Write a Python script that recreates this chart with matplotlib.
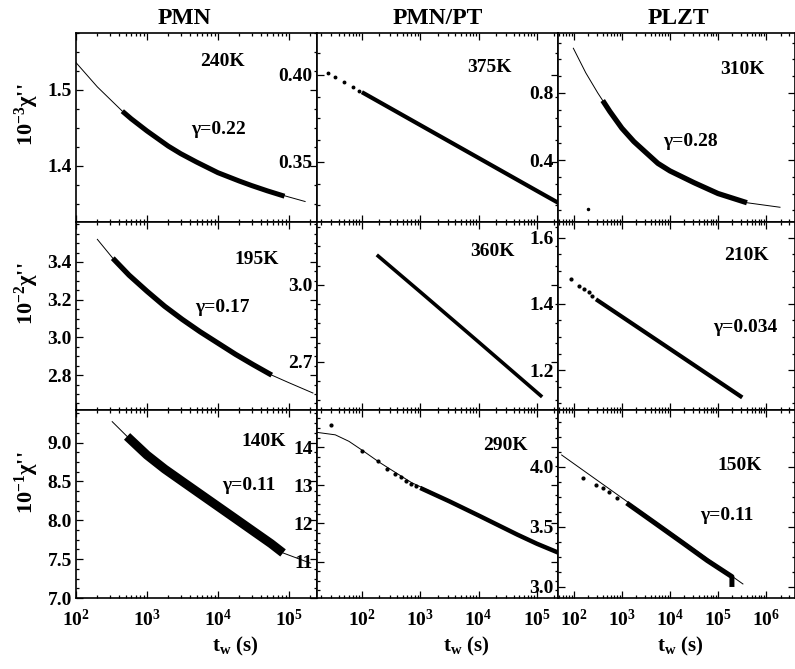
import matplotlib
matplotlib.use("Agg")
import matplotlib.pyplot as plt
from matplotlib.ticker import LogLocator, LogFormatterMathtext, NullFormatter, FixedLocator, FormatStrFormatter, AutoMinorLocator

plt.rcParams["font.family"] = ["Liberation Serif", "DejaVu Serif"]
plt.rcParams["font.weight"] = "bold"
plt.rcParams["mathtext.fontset"] = "custom"
plt.rcParams["mathtext.rm"] = "Liberation Serif:bold"
plt.rcParams["mathtext.it"] = "Liberation Serif:bold:italic"

# ---- data (t in s) ----
# PMN 240K
pmn240_fit_t = [100, 200, 450, 600, 1000, 2000, 3000, 5000, 10000, 20000, 30000, 50000, 100000, 170000]
pmn240_fit_y = [1.536, 1.504, 1.472, 1.462, 1.446, 1.426, 1.416, 1.405, 1.391, 1.380, 1.374, 1.367, 1.359, 1.353]
pmn240_t = [450, 600, 1000, 2000, 3000, 5000, 10000, 20000, 30000, 50000, 87000]
pmn240_y = [1.472, 1.462, 1.446, 1.426, 1.416, 1.405, 1.391, 1.380, 1.374, 1.367, 1.360]

# PMN/PT 375K
pt375_dot_t = [26, 35, 50, 71, 89]
pt375_dot_y = [0.4013, 0.3987, 0.3958, 0.3930, 0.3910]
pt375_t = [100, 1000, 10000, 100000, 230000]
pt375_y = [0.3901, 0.3712, 0.3523, 0.3334, 0.3266]

# PLZT 310K
plzt310_fit_t = [98, 178, 316, 400, 562, 1000, 1780, 3160, 5620, 10000, 31600, 100000, 400000, 1950000]
plzt310_fit_y = [1.067, 0.92, 0.80, 0.755, 0.69, 0.59, 0.51, 0.445, 0.38, 0.335, 0.265, 0.20, 0.145, 0.118]
plzt310_t = [400, 562, 1000, 1780, 3160, 5620, 10000, 31600, 100000, 400000]
plzt310_y = [0.755, 0.69, 0.59, 0.51, 0.445, 0.38, 0.335, 0.265, 0.20, 0.145]
plzt310_dot_t = [200]
plzt310_dot_y = [0.107]

# PMN 195K
pmn195_fit_t = [200, 330, 560, 1000, 1780, 3160, 5620, 10000, 17800, 31600, 57500, 100000, 219000]
pmn195_fit_y = [3.52, 3.42, 3.33, 3.245, 3.165, 3.095, 3.03, 2.97, 2.91, 2.855, 2.80, 2.76, 2.705]
pmn195_t = [330, 560, 1000, 1780, 3160, 5620, 10000, 17800, 31600, 57500]
pmn195_y = [3.42, 3.33, 3.245, 3.165, 3.095, 3.03, 2.97, 2.91, 2.855, 2.80]

# PMN/PT 360K
pt360_t = [180, 1000, 10000, 123000]
pt360_y = [3.117, 2.973, 2.778, 2.564]

# PLZT 210K
plzt210_dot_t = [87, 126, 162, 204, 245]
plzt210_dot_y = [1.475, 1.455, 1.444, 1.436, 1.424]
plzt210_t = [290, 10000, 320000]
plzt210_y = [1.414, 1.264, 1.117]

# PMN 140K
pmn140_fit_t = [324, 525, 1000, 1780, 3160, 5620, 10000, 17800, 31600, 56200, 83000, 200000]
pmn140_fit_y = [9.27, 9.08, 8.84, 8.66, 8.50, 8.34, 8.18, 8.02, 7.86, 7.70, 7.58, 7.45]
pmn140_t = [525, 1000, 1780, 3160, 5620, 10000, 17800, 31600, 56200, 83000]
pmn140_y = [9.08, 8.84, 8.66, 8.50, 8.34, 8.18, 8.02, 7.86, 7.70, 7.58]

# PMN/PT 290K
pt290_fit_t = [16, 35, 60, 105, 200, 390, 710, 1450, 3160, 9300, 20000, 46000, 100000, 250000]
pt290_fit_y = [14.39, 14.32, 14.15, 13.90, 13.60, 13.32, 13.07, 12.85, 12.58, 12.23, 11.98, 11.71, 11.47, 11.21]
pt290_dot_t = [30, 102, 186, 270, 370, 470, 575, 690, 850]
pt290_dot_y = [14.58, 13.90, 13.63, 13.43, 13.30, 13.21, 13.12, 13.03, 12.97]
pt290_t = [1000, 3160, 10000, 46000, 100000, 230000]
pt290_y = [12.93, 12.58, 12.21, 11.71, 11.47, 11.24]

# PLZT 150K
plzt150_fit_t = [56, 330000]
plzt150_fit_y = [4.10, 3.025]
plzt150_dot_t = [155, 295, 400, 540, 780]
plzt150_dot_y = [3.908, 3.85, 3.825, 3.79, 3.74]
plzt150_t = [1260, 5000, 18600, 60000, 195000, 195000]
plzt150_y = [3.70, 3.53, 3.367, 3.22, 3.086, 3.0]

# ---- layout ----
fig = plt.figure(figsize=(7.95, 6.69), dpi=100)
W, H = 795.0, 669.0
col_x = [(76, 317), (317, 558), (558, 795)]
row_y = [(33, 222), (222, 410), (410, 598)]
col_xlim = [(100, 2.5e5), (17, 2.3e5), (47, 4e6)]


def make_ax(r, c, ylim, yticks, fmt):
    x0, x1 = col_x[c]
    y0, y1 = row_y[r]
    ax = fig.add_axes([x0 / W, 1 - y1 / H, (x1 - x0) / W, (y1 - y0) / H])
    ax.set_xscale("log")
    ax.set_xlim(*col_xlim[c])
    ax.set_ylim(*ylim)
    ax.xaxis.set_major_locator(LogLocator(base=10, numticks=10))
    ax.xaxis.set_minor_locator(LogLocator(base=10, subs=range(2, 10), numticks=20))
    ax.xaxis.set_minor_formatter(NullFormatter())
    if r == 2:
        ax.xaxis.set_major_formatter(LogFormatterMathtext())
    else:
        ax.xaxis.set_major_formatter(NullFormatter())
    ax.yaxis.set_major_locator(FixedLocator(yticks))
    ax.yaxis.set_major_formatter(FormatStrFormatter(fmt))
    ax.yaxis.set_minor_locator(AutoMinorLocator(4))
    ax.tick_params(which="both", direction="in", top=True, right=True, width=0.9)
    ax.tick_params(which="major", length=5, labelsize=14, pad=3)
    ax.tick_params(axis="x", which="major", pad=8)
    ax.tick_params(which="minor", length=2.5)
    for s in ax.spines.values():
        s.set_linewidth(1.2)
    return ax


def note(ax, x, y, s):
    fig.text(x / W, 1 - y / H, s, ha="center", va="center", fontsize=14, fontweight="bold")


# PMN 240K
ax = make_ax(0, 0, (1.326, 1.575), [1.4, 1.5], "%.1f")
ax.plot(pmn240_fit_t, pmn240_fit_y, color="black", lw=0.7)
ax.plot(pmn240_t, pmn240_y, color="black", lw=3.6, solid_capstyle="butt")
note(ax, 222, 62, "240K")
note(ax, 219, 130, "γ=0.22")

# PMN/PT 375K
ax = make_ax(0, 1, (0.3155, 0.4241), [0.35, 0.40], "%.2f")
ax.plot(pt375_dot_t, pt375_dot_y, "o", color="black", ms=1.8)
ax.plot(pt375_t, pt375_y, color="black", lw=3.0, solid_capstyle="butt")
note(ax, 489, 67, "375K")

# PLZT 310K
ax = make_ax(0, 2, (0.03, 1.158), [0.4, 0.8], "%.1f")
ax.plot(plzt310_fit_t, plzt310_fit_y, color="black", lw=0.7)
ax.plot(plzt310_t, plzt310_y, color="black", lw=3.8, solid_capstyle="butt")
ax.plot(plzt310_dot_t, plzt310_dot_y, "o", color="black", ms=1.5)
note(ax, 742, 70, "310K")
note(ax, 690, 142, "γ=0.28")

# PMN 195K
ax = make_ax(1, 0, (2.615, 3.612), [2.8, 3.0, 3.2, 3.4], "%.1f")
ax.plot(pmn195_fit_t, pmn195_fit_y, color="black", lw=0.7)
ax.plot(pmn195_t, pmn195_y, color="black", lw=3.8, solid_capstyle="butt")
note(ax, 257, 260, "195K")
note(ax, 222, 308, "γ=0.17")

# PMN/PT 360K
ax = make_ax(1, 1, (2.513, 3.245), [2.7, 3.0], "%.1f")
ax.plot(pt360_t, pt360_y, color="black", lw=2.6, solid_capstyle="butt")
note(ax, 492, 252, "360K")

# PLZT 210K
ax = make_ax(1, 2, (1.079, 1.648), [1.2, 1.4, 1.6], "%.1f")
ax.plot(plzt210_dot_t, plzt210_dot_y, "o", color="black", ms=2.0)
ax.plot(plzt210_t, plzt210_y, color="black", lw=3.0, solid_capstyle="butt")
note(ax, 746, 255, "210K")
note(ax, 745, 327, "γ=0.034")

# PMN 140K
ax = make_ax(2, 0, (7.0, 9.42), [7.0, 7.5, 8.0, 8.5, 9.0], "%.1f")
ax.plot(pmn140_fit_t, pmn140_fit_y, color="black", lw=0.7)
ax.plot(pmn140_t, pmn140_y, color="black", lw=6.5, solid_capstyle="butt")
note(ax, 264, 442, "140K")
note(ax, 249, 486, "γ=0.11")

# PMN/PT 290K
ax = make_ax(2, 1, (10.05, 14.97), [11, 12, 13, 14], "%d")
ax.plot(pt290_fit_t, pt290_fit_y, color="black", lw=0.7)
ax.plot(pt290_dot_t, pt290_dot_y, "o", color="black", ms=2.0)
ax.plot(pt290_t, pt290_y, color="black", lw=3.2, solid_capstyle="butt")
note(ax, 505, 445, "290K")

# PLZT 150K
ax = make_ax(2, 2, (2.908, 4.475), [3.0, 3.5, 4.0], "%.1f")
ax.plot(plzt150_fit_t, plzt150_fit_y, color="black", lw=0.7)
ax.plot(plzt150_dot_t, plzt150_dot_y, "o", color="black", ms=2.0)
ax.plot(plzt150_t, plzt150_y, color="black", lw=3.6, solid_capstyle="butt")
note(ax, 740, 466, "150K")
note(ax, 727, 516, "γ=0.11")

# column titles, y labels, x labels
for x, s in [(184, "PMN"), (438, "PMN/PT"), (678, "PLZT")]:
    fig.text(x / W, 1 - 18 / H, s, ha="center", va="center", fontsize=17, fontweight="bold")
for y, s in [(115, r"$\mathdefault{10^{-3}}$χ''"), (294, r"$\mathdefault{10^{-2}}$χ''"), (483, r"$\mathdefault{10^{-1}}$χ''")]:
    fig.text(27 / W, 1 - y / H, s, ha="center", va="center", rotation=90, fontsize=16, fontweight="bold")
for x in [235, 466, 680]:
    fig.text(x / W, 1 - 646 / H, r"t$_\mathdefault{w}$ (s)", ha="center", va="center", fontsize=15, fontweight="bold")

fig.savefig("out.png", dpi=100)
